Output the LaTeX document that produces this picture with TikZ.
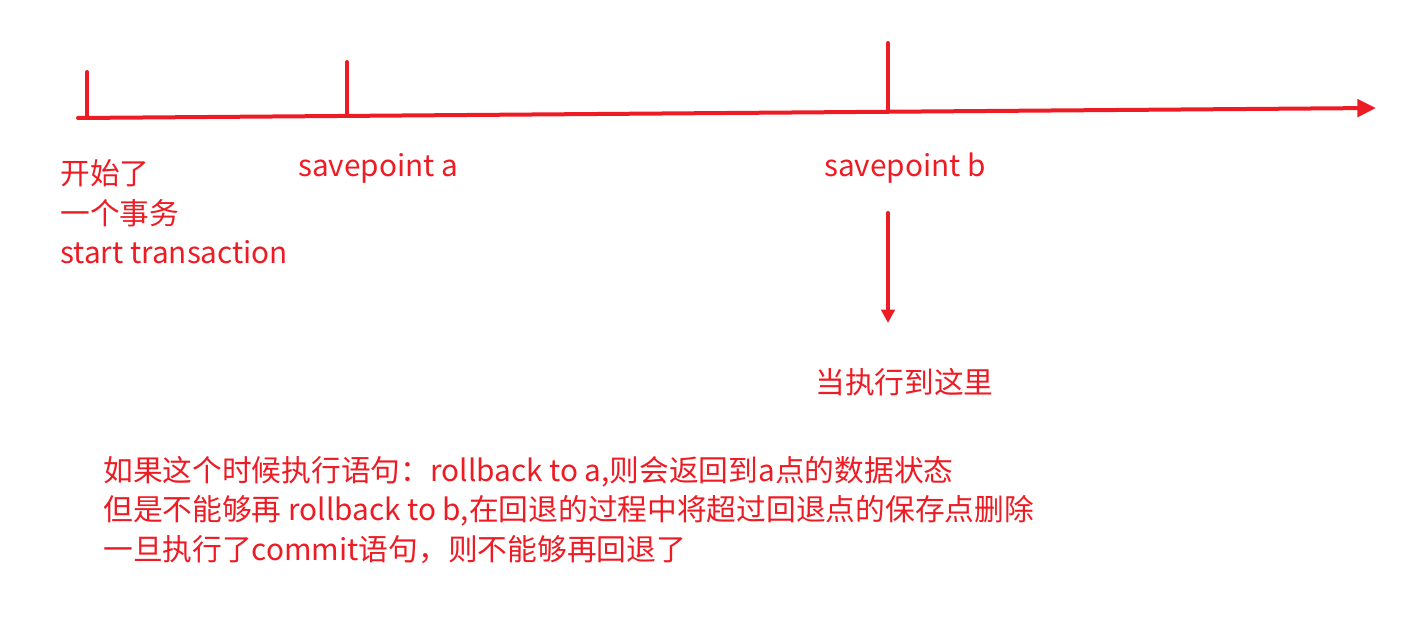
\documentclass[tikz,border=0pt]{standalone}
\usepackage{fontspec}
\setmainfont{Noto Sans CJK SC}
\usepackage{xcolor}
\usetikzlibrary{arrows.meta}
\definecolor{penred}{HTML}{ED1C24}
\tikzset{
  axis/.style={draw=penred,line width=3pt,line cap=round},
  note/.style={anchor=west,inner sep=0pt,align=left,text=penred},
}
\begin{document}
\begin{tikzpicture}[x=0.75pt,y=-0.75pt,font=\fontsize{22.3}{29.6}\selectfont]
  \useasboundingbox (0,0) rectangle (1409,620);
  \coordinate (start) at (78,118);
  \coordinate (stop) at (1376,108);
  \draw[axis,-{Triangle[length=14pt,width=13pt]}] (start) -- (stop);
  \foreach \n/\x/\y/\top in {s/87/118/72,a/347/116/62,b/888/111/43}{
    \coordinate (\n) at (\x,\y);
    \coordinate (\n top) at (\x,\top);
    \draw[axis] (\n) -- (\n top);}
  \node[note] (begin) at (60,212) {开始了\\一个事务\\start transaction};
  \node[note] (sa) at (298,168) {savepoint a};
  \node[note] (sb) at (824,168) {savepoint b};
  \coordinate (down) at (888,213);
  \node[note] (here) at (815,382) {当执行到这里};
  \draw[axis,-{Triangle[length=10pt,width=10pt]}] (down) -- (888,323) coordinate (tip);
  \node[note] (rule) at (103,510) {如果这个时候执行语句：rollback to a,则会返回到a点的数据状态\\
    但是不能够再 rollback to b,在回退的过程中将超过回退点的保存点删除\\
    一旦执行了commit语句，则不能够再回退了};
\end{tikzpicture}
\end{document}
